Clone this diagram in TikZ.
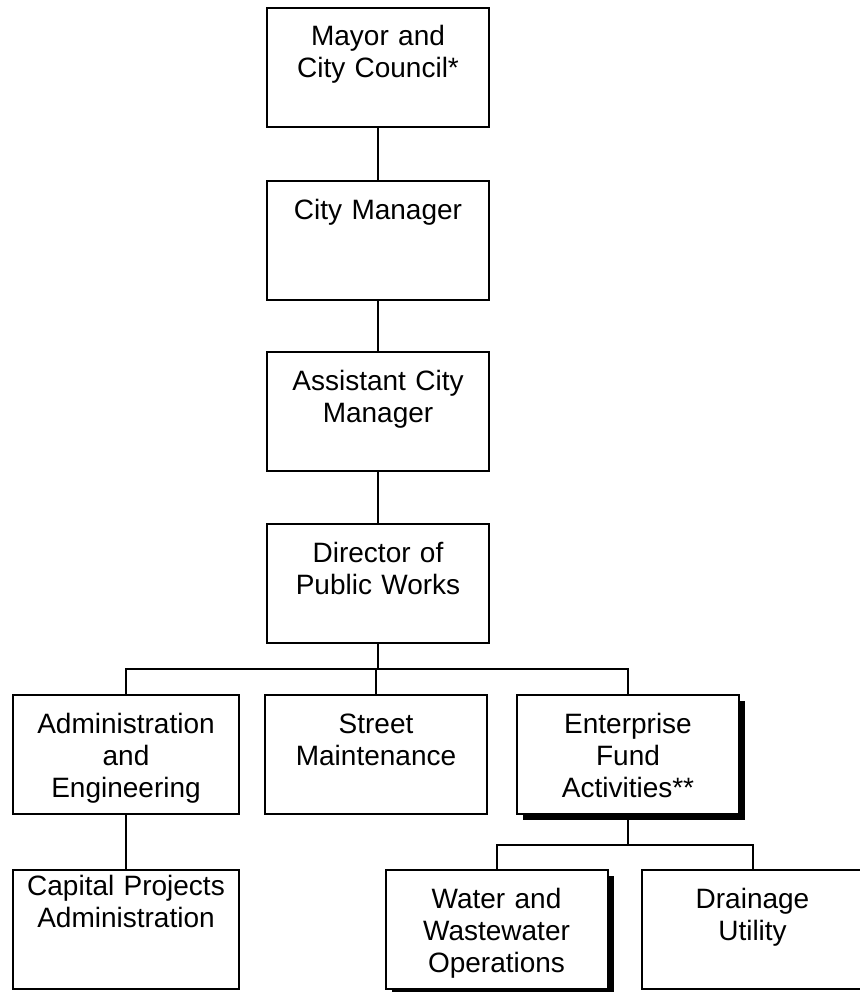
\documentclass[tikz,border=0pt]{standalone}
\usepackage{fontspec}
\setmainfont{Liberation Sans}
\usetikzlibrary{positioning, shadows}

\tikzset{
  orgbox/.style={draw=black, line width=2pt, fill=white, text width=222pt, align=center,
    inner xsep=0pt, inner ysep=0pt, outer sep=0pt, text height=38pt, text depth=81pt,
    font=\fontsize{28pt}{32pt}\selectfont},
  shadowbox/.style={orgbox, drop shadow={shadow xshift=6pt, shadow yshift=-6pt, fill=black, opacity=1}},
  link/.style={draw=black, line width=2pt}
}

\begin{document}
\begin{tikzpicture}[x=1pt, y=-1pt]
  \useasboundingbox (0,0) rectangle (859,992);

  % chain of command
  \node[orgbox] (mayor) at (378,67.5) {Mayor and\\City Council*};
  \node[orgbox, below=54pt of mayor] (cm) {City Manager};
  \node[orgbox, below=52pt of cm] (acm) {Assistant City\\Manager};
  \node[orgbox, below=53pt of acm] (dir) {Director of\\Public Works};

  % divisions
  \node[orgbox, below=52pt of dir, xshift=-2pt] (street) {Street\\Maintenance};
  \node[orgbox, text width=226pt, left=26pt of street] (admin) {Administration\\and\\Engineering};
  \node[shadowbox, right=30pt of street] (ent) {Enterprise\\Fund\\Activities**};

  % sections
  \node[orgbox, text width=226pt, text height=25pt, text depth=94pt, below=56pt of admin] (capital) {Capital Projects\\Administration};
  \node[shadowbox] (water) at (496.5,929.5) {Water and\\Wastewater\\Operations};
  \node[orgbox, right=34pt of water] (drain) {Drainage\\Utility};

  \coordinate[below=26pt of dir] (bus);
  \coordinate[below=31pt of ent] (entbus);

  \draw[link] (mayor) -- (cm);
  \draw[link] (cm) -- (acm);
  \draw[link] (acm) -- (dir);
  \draw[link] (dir) -- (bus);
  \draw[link] (admin.north) |- (bus) -| (ent.north);
  \draw[link] (street.north) -- (street.north |- bus);
  \draw[link] (admin) -- (capital);
  \draw[link] (ent) -- (entbus);
  \draw[link] (water.north) |- (entbus) -| (drain.north);
\end{tikzpicture}
\end{document}
